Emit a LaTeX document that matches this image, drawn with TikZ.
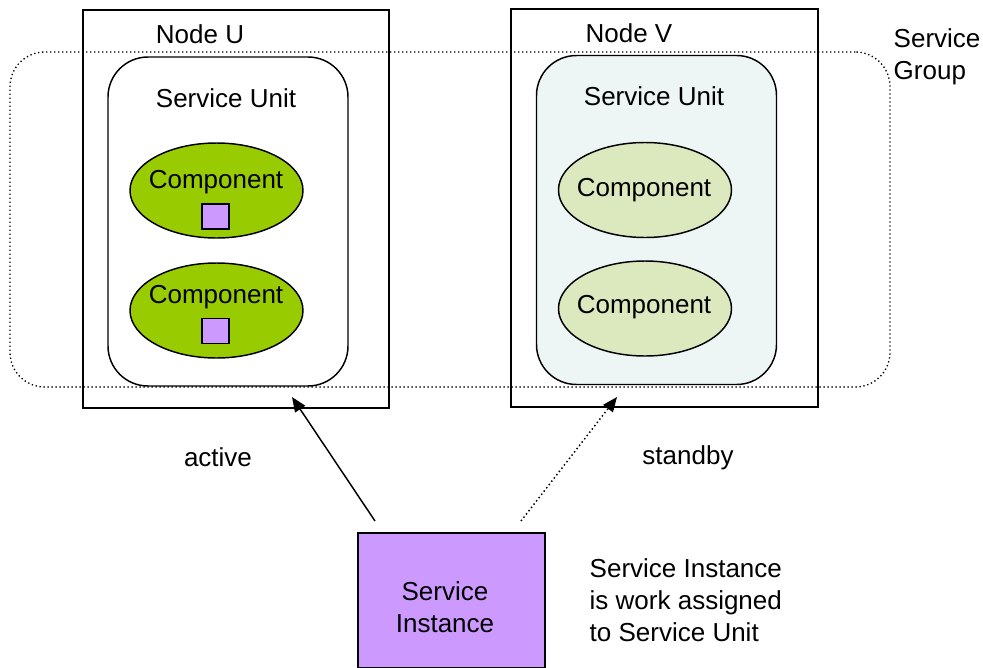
\documentclass[tikz,border=0pt]{standalone}
\usepackage{fontspec}
\setmainfont{Liberation Sans}
\usetikzlibrary{arrows.meta,shapes.geometric}
\definecolor{compgreen}{HTML}{99CC00}
\definecolor{comppale}{HTML}{DCE9BE}
\definecolor{unitblue}{HTML}{EDF5F5}
\definecolor{sililac}{HTML}{CC99FF}
\tikzset{
  box/.style={draw, line width=1.1pt, inner sep=0pt},
  unit/.style={box, rounded corners=30pt, minimum width=180pt, minimum height=246.75pt},
  comp/.style={box, ellipse, minimum width=129.75pt, minimum height=71.25pt},
  work/.style={box, fill=sililac, minimum width=20.25pt, minimum height=18.75pt},
  lbl/.style={font=\fontsize{19.5}{24}\selectfont, align=center},
  assign/.style={line width=1.1pt, -{Triangle[length=11pt,width=9pt]}},
}
\begin{document}
\begin{tikzpicture}[x=0.75pt, y=-0.75pt]
  \useasboundingbox (0,0) rectangle (983,668);
  % cluster nodes
  \node[box, minimum width=229.5pt, minimum height=298.5pt] (nodeU) at (236,209) {};
  \node[box, minimum width=230.25pt, minimum height=298.5pt] (nodeV) at (664.5,208) {};
  \node[lbl] (nodeUlbl) at (200,34) {Node U};
  \node[lbl] (nodeVlbl) at (629,33) {Node V};
  % service group
  \node[draw, dotted, line width=1pt, rounded corners=26pt, minimum width=660pt, minimum height=251.25pt] (group) at (450,219.5) {};
  \node[lbl, align=left, anchor=north west] (grouplbl) at (889,24) {Service\\Group};
  % service units
  \node[unit] (unitU) at (228,221.5) {};
  \node[unit, fill=unitblue] (unitV) at (656.5,220) {};
  \node[lbl] (unitUlbl) at (226,98) {Service Unit};
  \node[lbl] (unitVlbl) at (654,96) {Service Unit};
  % components
  \node[comp, fill=compgreen] (compU1) at (216.5,190.5) {};
  \node[comp, fill=compgreen] (compU2) at (216.5,310.5) {};
  \node[comp, fill=comppale] (compV1) at (645,190) {};
  \node[comp, fill=comppale] (compV2) at (645,308.5) {};
  \node[lbl] at (216,182) {Component};
  \node[lbl] at (216,297) {Component};
  \node[lbl] at (644,190) {Component};
  \node[lbl] at (644,307) {Component};
  \node[work] (workU1) at (215.5,216.5) {};
  \node[work] (workU2) at (215.5,331) {};
  % service instance
  \node[box, fill=sililac, minimum width=140.25pt, minimum height=101.25pt] (si) at (451.5,600.5) {};
  \node[lbl] (silbl) at (445,607) {Service\\Instance};
  \node[lbl, align=left, anchor=west] (note) at (585,600) {Service Instance\\is work assigned\\to Service Unit};
  % assignments
  \coordinate (actFrom) at (375,521);
  \coordinate (actTo) at (292,397);
  \coordinate (sbyFrom) at (521,521);
  \coordinate (sbyTo) at (617,397);
  \draw[assign] (actFrom) to (actTo);
  \draw[assign, dotted] (sbyFrom) to (sbyTo);
  \node[lbl] (actlbl) at (218,457) {active};
  \node[lbl] (sbylbl) at (688,458) {standby};
\end{tikzpicture}
\end{document}
